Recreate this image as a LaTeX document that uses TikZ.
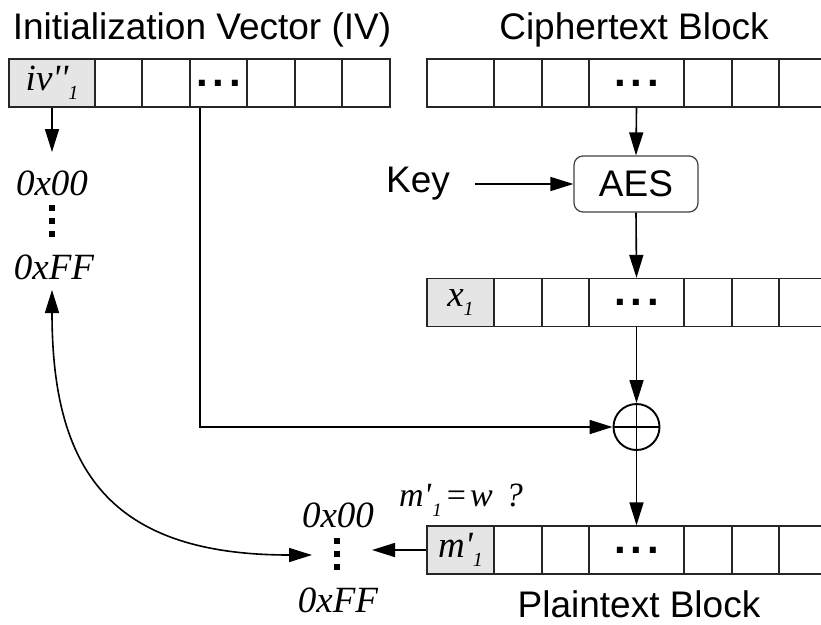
\documentclass[tikz,border=0pt]{standalone}
\usepackage{fontspec}
\setmainfont{Liberation Sans}
\newfontfamily\tms{Liberation Serif}
\usetikzlibrary{arrows.meta}
\newcommand\sbx[1]{\raisebox{-9pt}{\fontsize{20}{20}\selectfont\itshape #1}}
\newcommand\ddd{{\fontsize{42}{42}\selectfont\bfseries .\kern4.8pt.\kern4.8pt.}}
\begin{document}
\begin{tikzpicture}[x=1pt,y=-1pt,
  cell/.style={draw=black!85, line width=1.3pt, inner sep=0pt, minimum height=48pt},
  arr/.style={line width=1.6pt, -{Triangle[length=23pt,width=14pt]}},
  sans/.style={font=\fontsize{37}{40}\selectfont, inner sep=0pt},
  hex/.style={font=\tms\itshape\fontsize{37}{37}\selectfont, inner sep=0pt},
  lab/.style={font=\tms\itshape\fontsize{37}{37}\selectfont, inner sep=0pt},
  sq/.style={fill=black}
]
\useasboundingbox (0,0) rectangle (821,624);

% titles
\node[sans, anchor=base] (tiv) at (202,39) {Initialization Vector (IV)};
\node[sans, anchor=base] (tct) at (634,39) {Ciphertext Block};
\node[sans, anchor=base] (tpt) at (639,617) {Plaintext Block};

% IV row
\foreach \a/\b/\f [count=\i] in {9/95/black!10,95/142/white,142/190/white,190/247/white,247/295/white,295/342/white,342/390/white}
  \node[cell, fill=\f, minimum width={(\b-\a)*1pt}] (iv\i) at ({(\a+\b)/2},83) {};
% Ciphertext row
\foreach \a/\b [count=\i] in {427/494,494/542,542/589,589/684,684/732,732/779,779/827}
  \node[cell, fill=white, minimum width={(\b-\a)*1pt}] (c\i) at ({(\a+\b)/2},83) {};
% x row
\foreach \a/\b/\f [count=\i] in {427/494/black!10,494/542/white,542/589/white,589/684/white,684/732/white,732/779/white,779/827/white}
  \node[cell, fill=\f, minimum width={(\b-\a)*1pt}] (x\i) at ({(\a+\b)/2},302.5) {};
% Plaintext row
\foreach \a/\b/\f [count=\i] in {427/494/black!10,494/542/white,542/589/white,589/684/white,684/732/white,732/779/white,779/827/white}
  \node[cell, fill=\f, minimum width={(\b-\a)*1pt}] (p\i) at ({(\a+\b)/2},550) {};

% cell contents
\node[lab] (ivl) at (iv1) {iv''\sbx{1}};
\node[lab] (xl) at (x1) {x\sbx{1}};
\node[lab] (pl) at (p1) {m'\sbx{1}};
\node[inner sep=0pt] (ivd) at (iv4) {\ddd};
\node[inner sep=0pt] (cd) at (c4) {\ddd};
\node[inner sep=0pt] (xd) at (x4) {\ddd};
\node[inner sep=0pt] (pd) at (p4) {\ddd};

% AES and key
\node[draw=black!75, line width=1.2pt, rounded corners=9pt, minimum width=124pt, minimum height=56pt, sans] (aes) at (636,184) {AES};
\node[sans, anchor=base] (key) at (418,192) {Key};
\coordinate (ks) at (475,184);

% XOR
\node[circle, draw, line width=1.9pt, minimum size=46pt, inner sep=0pt] (xor) at (636.5,427) {};
\draw[line width=1.9pt] (xor.north) -- (xor.south) (xor.west) -- (xor.east);

% left hex range
\node[hex] (h0) at (52,183) {0x00};
\node[hex] (hF) at (54,267) {0xFF};
\foreach \y in {208,221,234} \fill[sq] (49.2,\y-2.8) rectangle (54.8,\y+2.8);
% lower hex range
\node[hex] (l0) at (338,515) {0x00};
\node[hex] (lF) at (338,600) {0xFF};
\foreach \y in {541,554,567} \fill[sq] (334.2,\y-2.8) rectangle (339.8,\y+2.8);

% equation
\node[font=\tms\fontsize{34}{34}\selectfont, inner sep=0pt, anchor=base west] (eq) at (399,506)
  {\textit{m'}\kern1pt\raisebox{-10pt}{\fontsize{19}{19}\selectfont\itshape 1}\kern5pt=\kern4pt\textit{w}\kern13pt\textit{?}};

% coordinates
\coordinate (t1) at (52,152);
\coordinate (ca) at (52,290);
\coordinate (cb) at (312,555);
\coordinate (lt) at (372,550);

% connectors
\draw[arr] (iv1.south) -- (t1);
\draw[arr] (ks) -- (aes.west);
\draw[arr] (c4.south) -- (aes.north);
\draw[arr] (aes.south) -- (x4.north);
\draw[arr] (x4.south) -- (xor.north);
\draw[arr] ([xshift=-18.5pt]iv4.south) |- (xor.west);
\draw[arr] (xor.south) -- (p4.north);
\draw[arr] (p1.west) -- (lt);
\draw[line width=1.6pt, {Triangle[length=23pt,width=14pt]}-{Triangle[length=23pt,width=14pt]}]
  (ca) .. controls (52,470) and (110,555) .. (cb);
\end{tikzpicture}
\end{document}
